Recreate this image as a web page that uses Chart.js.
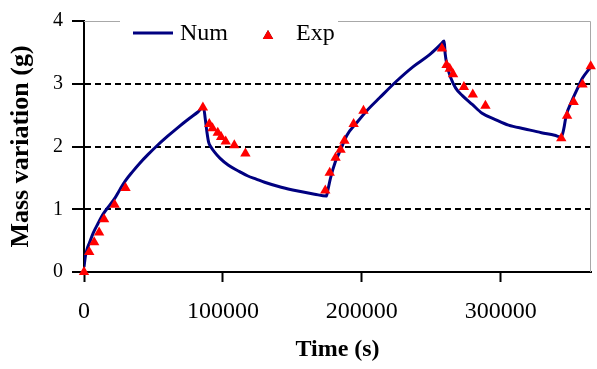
<!DOCTYPE html>
<html>
<head>
<meta charset="utf-8">
<script src="https://cdn.jsdelivr.net/npm/chart.js@4/dist/chart.umd.min.js"></script>
<style>
	html, body { margin: 0; padding: 0; background: #fff; }
	#wrap { width: 597px; height: 369px; }
</style>
</head>
<body>
<div id="wrap"><canvas id="chart" width="597" height="369"></canvas></div>
<script>
// numerical model (line)
const numTime = [0, 1000, 2000, 4000, 6600, 10000, 14000, 18000, 22000, 26000, 30000, 35000, 40000, 46000, 52000, 60000, 68000, 76000, 82000, 86000,
	87300, 88500, 89700, 91500, 94000, 98000, 104000, 112000, 118000, 124000, 130000, 142000, 154000, 166000, 174500,
	175500, 177400, 181000, 184600, 189300, 196400, 203600, 213000, 224900, 236800, 248600, 256900, 259300,
	260000, 261700, 264100, 267600, 272400, 279500, 286600, 296100, 305600, 317400, 329300, 338800, 343600,
	345400, 347100, 350700, 355400, 358900, 364900];
const numMass = [0.08, 0.25, 0.35, 0.47, 0.62, 0.77, 0.93, 1.05, 1.17, 1.32, 1.46, 1.60, 1.73, 1.87, 2.0, 2.16, 2.31, 2.45, 2.55, 2.63,
	2.44, 2.23, 2.07, 1.99, 1.91, 1.81, 1.70, 1.60, 1.53, 1.48, 1.43, 1.35, 1.29, 1.24, 1.21,
	1.30, 1.49, 1.76, 1.94, 2.18, 2.38, 2.57, 2.78, 3.04, 3.27, 3.46, 3.63, 3.68,
	3.48, 3.27, 3.09, 2.93, 2.81, 2.67, 2.53, 2.43, 2.34, 2.28, 2.22, 2.18, 2.15,
	2.28, 2.49, 2.70, 2.93, 3.09, 3.27];

// experimental measurements (triangles)
const expTime = [0, 3770, 7330, 10890, 14450, 22060, 29890, 85600, 90200, 92500, 96300, 98700, 102000, 108200, 116200,
	173700, 176900, 181100, 184700, 187500, 194100, 201200, 257700, 261000, 263300, 265700, 273500, 279900, 289000,
	343600, 347800, 352500, 358900, 364800];
const expMass = [0, 0.32, 0.475, 0.63, 0.84, 1.07, 1.34, 2.62, 2.36, 2.29, 2.22, 2.15, 2.08, 2.02, 1.89,
	1.30, 1.58, 1.82, 1.95, 2.09, 2.36, 2.57, 3.56, 3.30, 3.24, 3.15, 2.95, 2.83, 2.65,
	2.13, 2.49, 2.71, 2.99, 3.28];

const xTicks = [0, 100000, 200000, 300000];
const yTicks = [0, 1, 2, 3, 4];

const serif = "'Liberation Serif', 'Times New Roman', serif";

// gray frame on top/right of the plot
const frame = {
	id: 'frame',
	beforeDatasetsDraw(chart) {
		const { ctx, chartArea: a } = chart;
		ctx.save();
		ctx.strokeStyle = '#a8a8a8';
		ctx.lineWidth = 1;
		ctx.beginPath();
		ctx.moveTo(a.left, a.top + 0.5);
		ctx.lineTo(a.right - 0.5, a.top + 0.5);
		ctx.lineTo(a.right - 0.5, a.bottom);
		ctx.stroke();
		ctx.restore();
	}
};

// legend box sitting on the top border
const boxLegend = {
	id: 'boxLegend',
	afterDatasetsDraw(chart) {
		const ctx = chart.ctx;
		const ds = chart.data.datasets;
		ctx.save();
		ctx.fillStyle = '#fff';
		ctx.fillRect(120, 14, 218, 36);
		ctx.strokeStyle = ds[1].borderColor;
		ctx.lineWidth = 3;
		ctx.beginPath();
		ctx.moveTo(133, 33);
		ctx.lineTo(173, 33);
		ctx.stroke();
		ctx.fillStyle = '#000';
		ctx.font = '24px ' + serif;
		ctx.textBaseline = 'alphabetic';
		ctx.fillText(ds[1].label, 180, 40);
		ctx.fillText(ds[0].label, 296, 40);
		Chart.helpers.drawPoint(ctx, { pointStyle: 'triangle', radius: 6, borderWidth: 0 }, 268, 36);
		ctx.fillStyle = ds[0].backgroundColor;
		ctx.fill();
		ctx.restore();
	}
};

new Chart(document.getElementById('chart'), {
	type: 'scatter',
	data: {
		datasets: [
			{
				label: 'Exp',
				data: expTime.map((t, i) => ({ x: t, y: expMass[i] })),
				pointStyle: 'triangle',
				pointRadius: 6,
				backgroundColor: '#ff0000',
				borderColor: '#ff0000',
				borderWidth: 0,
				clip: false,
				order: 0
			},
			{
				label: 'Num',
				type: 'line',
				data: numTime.map((t, i) => ({ x: t, y: numMass[i] })),
				borderColor: '#000080',
				borderWidth: 3,
				pointRadius: 0,
				cubicInterpolationMode: 'monotone',
				fill: false,
				order: 1
			}
		]
	},
	options: {
		responsive: false,
		animation: false,
		layout: { padding: { top: 17, right: 0, left: 0, bottom: 0 } },
		plugins: {
			legend: { display: false },
			tooltip: { enabled: false }
		},
		scales: {
			x: {
				type: 'linear',
				min: 0,
				max: 365000,
				afterBuildTicks: scale => { scale.ticks = xTicks.map(v => ({ value: v })); },
				afterFit: scale => { scale.height = 97; },
				ticks: {
					color: '#000',
					font: { family: serif, size: 24 },
					padding: 15,
					maxRotation: 0,
					callback: v => String(v)
				},
				grid: { drawOnChartArea: false, tickLength: 10, tickColor: '#000', tickWidth: 2 },
				border: { color: '#000', width: 2 },
				title: {
					display: true,
					text: 'Time (s)',
					color: '#000',
					font: { family: serif, size: 24, weight: 'bold' },
					padding: { top: 0, bottom: 5 }
				}
			},
			y: {
				min: 0,
				max: 4,
				afterBuildTicks: scale => { scale.ticks = yTicks.map(v => ({ value: v })); },
				afterFit: scale => { scale.width = 84; },
				ticks: {
					color: '#000',
					font: { family: serif, size: 20 },
					padding: 9
				},
				grid: {
					color: c => (c.tick && c.tick.value > 0 && c.tick.value < 4) ? '#000' : 'rgba(0,0,0,0)',
					lineWidth: 2,
					tickLength: 12,
					tickColor: '#000',
					tickWidth: 2
				},
				border: { color: '#000', width: 2, dash: [6, 4] },
				title: {
					display: true,
					text: 'Mass variation (g)',
					color: '#000',
					font: { family: serif, size: 26, weight: 'bold' },
					padding: { top: 6, bottom: 0 }
				}
			}
		}
	},
	plugins: [frame, boxLegend]
});
</script>
</body>
</html>
